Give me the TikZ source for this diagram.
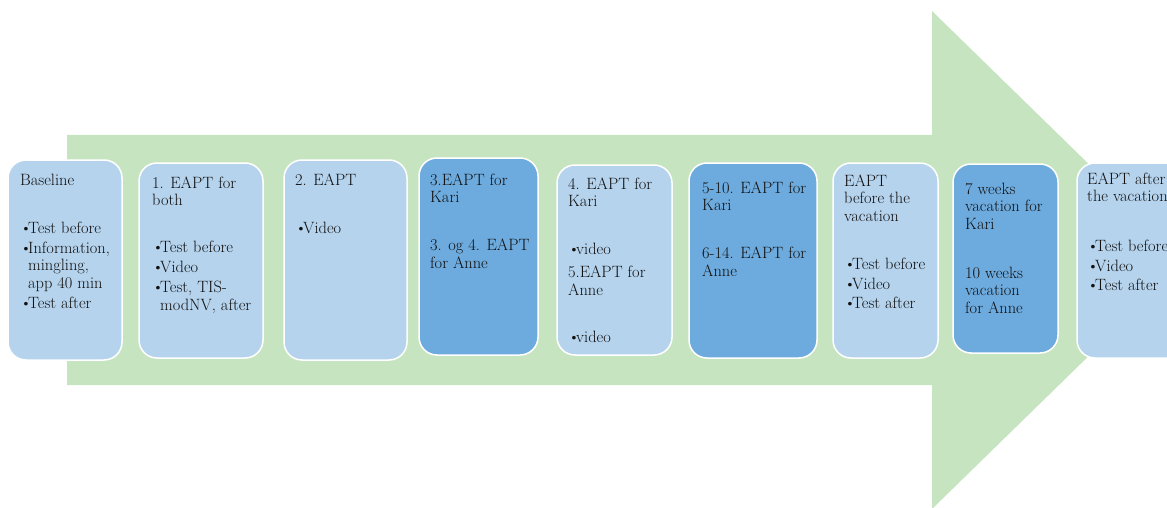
\documentclass[tikz,border=0pt]{standalone}
\definecolor{arrowgreen}{HTML}{C6E4C0}
\definecolor{lightblue}{HTML}{B5D3ED}
\definecolor{darkblue}{HTML}{6DAADD}
\definecolor{txt}{HTML}{111111}
\newcommand\bl{\makebox[8pt][l]{\textbullet}}
\newcommand\ind{\hspace*{8pt}}
\newcommand\fst{\rule{0pt}{12pt}}
\tikzset{
  boxbase/.style={draw=white, line width=1.5pt, rounded corners=18pt, inner sep=0pt},
  lbox/.style={boxbase, fill=lightblue},
  dbox/.style={boxbase, fill=darkblue},
  btext/.style={anchor=north west, inner sep=0pt, align=left, text=txt,
    font=\rmfamily\fontsize{16.4}{17.5}\selectfont},
}
\begin{document}
\begin{tikzpicture}[x=1pt,y=-1pt]
\useasboundingbox (0,0) rectangle (1167,508);
\clip (0,0) rectangle (1167,508);
% big arrow
\fill[arrowgreen] (67,135) -- (932,135) -- (932,11) -- (1187,260) -- (932,509) -- (932,385) -- (67,385) -- cycle;
% boxes
\node[lbox, minimum width=114pt, minimum height=200pt] (b1) at (65,260) {};
\node[lbox, minimum width=124pt, minimum height=195pt] (b2) at (201,260.5) {};
\node[lbox, minimum width=123pt, minimum height=200pt] (b3) at (345.5,260) {};
\node[dbox, minimum width=119pt, minimum height=197pt] (b4) at (478.5,256.5) {};
\node[lbox, minimum width=115pt, minimum height=190pt] (b5) at (614.5,260) {};
\node[dbox, minimum width=128pt, minimum height=195pt] (b6) at (753,260.5) {};
\node[lbox, minimum width=105pt, minimum height=195pt] (b7) at (885.5,260.5) {};
\node[dbox, minimum width=105pt, minimum height=189pt] (b8) at (1005.5,258.5) {};
\node[lbox, minimum width=120pt, minimum height=195pt] (b9) at (1137,260.5) {};
% texts
\node[btext] (t1) at (20,173) {\fst Baseline\\[30.5pt]\bl Test before\\[2.5pt]\bl Information,\\\ind mingling,\\\ind app 40 min\\[2.5pt]\bl Test after};
\node[btext] (t2) at (152,176) {\fst 1. EAPT for\\both\\[29.5pt]\bl Test before\\[2.5pt]\bl Video\\[2.5pt]\bl Test, TIS-\\\ind modNV, after};
\node[btext] (t3) at (295,173) {\fst 2. EAPT\\[30.5pt]\bl Video};
\node[btext] (t4) at (430,173) {\fst 3.EAPT for\\Kari\\[30.5pt]3. og 4. EAPT\\for Anne};
\node[btext] (t5) at (568,177) {\fst 4. EAPT for\\Kari\\[30.5pt]\bl video\\[5.5pt]5.EAPT for\\Anne\\[29.5pt]\bl video};
\node[btext] (t6) at (702,181) {\fst 5-10. EAPT for\\Kari\\[30.5pt]6-14. EAPT for\\Anne};
\node[btext] (t7) at (844,174) {\fst EAPT\\before the\\vacation\\[30.5pt]\bl Test before\\[2.5pt]\bl Video\\[2pt]\bl Test after};
\node[btext] (t8) at (965,182) {\fst 7 weeks\\vacation for\\Kari\\[31.5pt]10 weeks\\vacation\\for Anne};
\node[btext] (t9) at (1087,172) {\fst EAPT after\\the vacation\\[32.5pt]\bl Test before\\[2pt]\bl Video\\[2pt]\bl Test after};
\end{tikzpicture}
\end{document}
